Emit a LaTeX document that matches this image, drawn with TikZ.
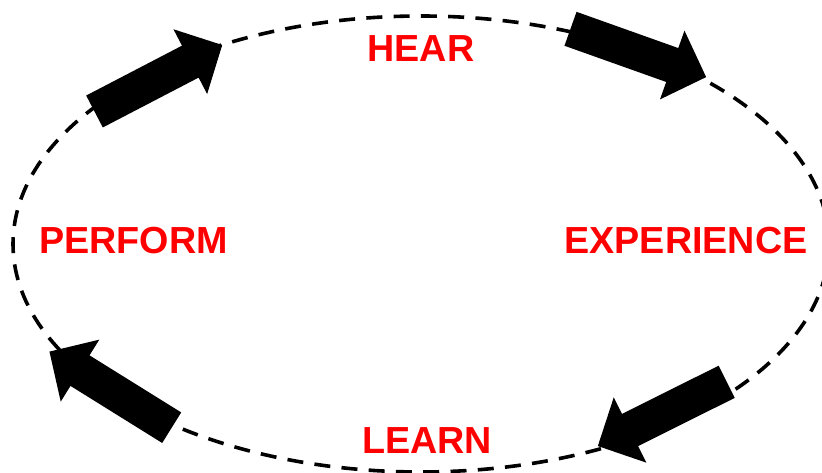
\documentclass[tikz,border=0pt]{standalone}
\usepackage{fontspec}
\setmainfont{Liberation Sans}
\begin{document}
\begin{tikzpicture}[x=1pt,y=-1pt,
  cyclelabel/.style={text=red,font=\fontsize{37.7}{40}\selectfont\bfseries,inner sep=0pt,anchor=center},
  cycleline/.style={draw=black,line width=3.6pt,dash pattern=on 16pt off 11.3pt},
  blockarrow/.style={fill=black,draw=none}]
\useasboundingbox (0,0) rectangle (822,473);
\begin{scope}
\clip (0,0) rectangle (822,473);
\draw[cycleline] (421,244) ellipse [x radius=408, y radius=228];
\end{scope}
% arrows: tail centre, rotation (visual angle)
\coordinate (t1) at (94.5,111.5);
\coordinate (t2) at (570.5,28.8);
\coordinate (t3) at (726.7,381.8);
\coordinate (t4) at (171.7,427.7);
\foreach \c/\a in {t1/27.5, t2/-19.6, t3/206.5, t4/148.1}{
  \path[blockarrow,shift={(\c)},rotate=\a]
    (0,-18) -- (108,-18) -- (108,-36.5) -- (144,0) -- (108,36.5) -- (108,18) -- (0,18) -- cycle;
}
\node[cyclelabel] (hear) at (421,48.5) {HEAR};
\node[cyclelabel] (experience) at (686,240.5) {EXPERIENCE};
\node[cyclelabel] (learn) at (427,441) {LEARN};
\node[cyclelabel] (perform) at (133.5,240.5) {PERFORM};
\end{tikzpicture}
\end{document}
